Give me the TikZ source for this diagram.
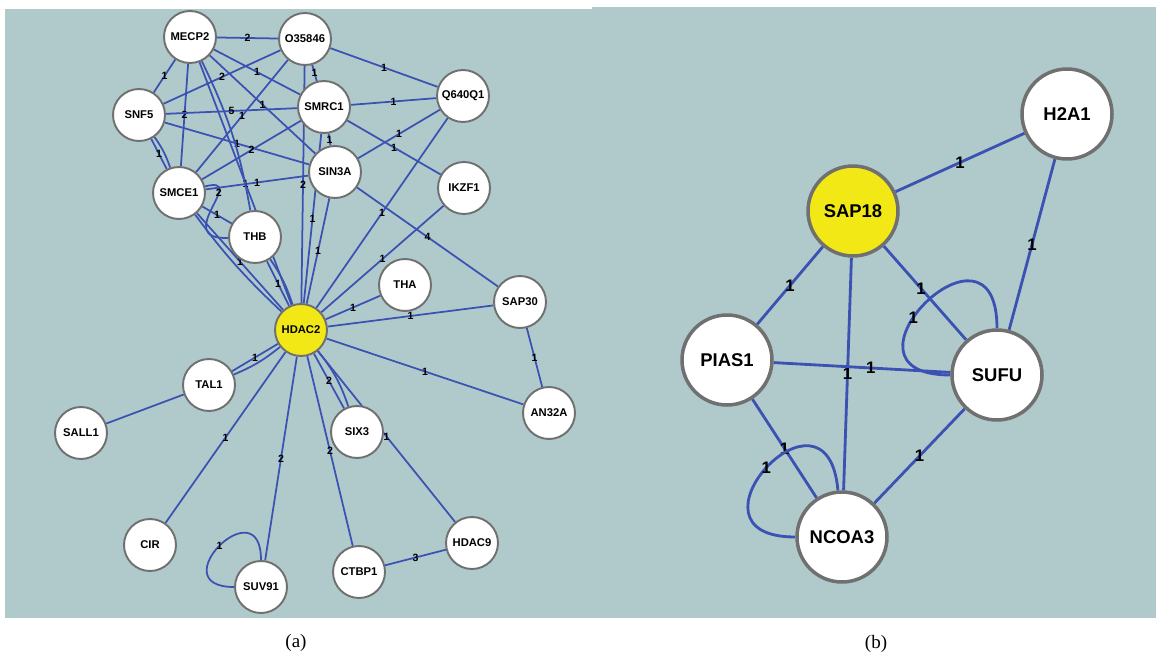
\documentclass[tikz,border=0pt]{standalone}
\usepackage{fontspec}
\setmainfont{Liberation Sans}
\newfontfamily\capfont{Liberation Serif}

\definecolor{panelbg}{RGB}{176,202,203}
\definecolor{edgeblue}{RGB}{59,82,178}
\definecolor{hubyellow}{RGB}{242,232,22}
\definecolor{rimgray}{RGB}{112,112,112}

\pgfdeclarelayer{panel}
\pgfdeclarelayer{wires}
\pgfsetlayers{panel,wires,main}

\tikzset{
  prot/.style={circle, draw=rimgray, line width=1.1pt, fill=white, minimum size=1.04cm, inner sep=0pt, font=\fontsize{6.4}{7}\selectfont\bfseries},
  hub/.style={prot, fill=hubyellow},
  bigprot/.style={circle, draw=rimgray, line width=2pt, fill=white, minimum size=1.8cm, inner sep=0pt, font=\fontsize{10.5}{12}\selectfont\bfseries},
  bighub/.style={bigprot, fill=hubyellow},
  link/.style={edgeblue, line width=1pt},
  biglink/.style={edgeblue, line width=1.6pt},
  wt/.style={text=black, font=\fontsize{6}{7}\selectfont\bfseries, inner sep=0pt},
  bigwt/.style={text=black, font=\fontsize{9.5}{10}\selectfont\bfseries, inner sep=0pt}
}

\begin{document}
\begin{tikzpicture}[x=0.02cm, y=-0.02cm]

\useasboundingbox (0,0) rectangle (1156,655);

\begin{pgfonlayer}{panel}
\fill [panelbg] (5,9) rectangle (592,618);
\fill [panelbg] (592,7) rectangle (1156,618);
\end{pgfonlayer}

\node [prot] (mecp2) at (190,37) {MECP2};
\node [prot] (o35846) at (305,39) {O35846};
\node [prot] (q640q1) at (463,96) {Q640Q1};
\node [prot] (snf5) at (139,115) {SNF5};
\node [prot] (smrc1) at (324,107) {SMRC1};
\node [prot] (sin3a) at (335,172) {SIN3A};
\node [prot] (ikzf1) at (464,188) {IKZF1};
\node [prot] (smce1) at (179,193) {SMCE1};
\node [prot] (thb) at (255,237) {THB};
\node [hub] (hdac2) at (301,330) {HDAC2};
\node [prot] (tha) at (405,285) {THA};
\node [prot] (sap30) at (520,302) {SAP30};
\node [prot] (tal1) at (209,385) {TAL1};
\node [prot] (sall1) at (81,433) {SALL1};
\node [prot] (six3) at (357,432) {SIX3};
\node [prot] (an32a) at (549,413) {AN32A};
\node [prot] (cir) at (150,545) {CIR};
\node [prot] (suv91) at (261,587) {SUV91};
\node [prot] (ctbp1) at (359,572) {CTBP1};
\node [prot] (hdac9) at (472,543) {HDAC9};

\node [bigprot] (h2a1) at (1067,114) {H2A1};
\node [bighub] (sap18) at (853,211) {SAP18};
\node [bigprot] (pias1) at (727,360) {PIAS1};
\node [bigprot] (sufu) at (997,375) {SUFU};
\node [bigprot] (ncoa3) at (842,537) {NCOA3};

\begin{pgfonlayer}{wires}
\draw [link] (mecp2) -- node [wt] {2} (o35846);
\draw [link] (o35846) -- node [wt] {1} (q640q1);
\draw [link] (mecp2) -- node [wt] {1} (snf5);
\draw [link] (snf5) -- node [wt] {2} (o35846);
\draw [link] (mecp2) -- node [wt] {1} (smrc1);
\draw [link] (o35846) -- node [wt] {1} (smrc1);
\draw [link] (mecp2) -- node [wt] {1} (sin3a);
\draw [link] (mecp2) -- node [wt] {2} (smce1);
\draw [link] (snf5) -- node [wt] {5} (smrc1);
\draw [link] (o35846) -- node [wt] {1} (smce1);
\draw [link] (smrc1) -- node [wt] {1} (q640q1);
\draw [link] (smrc1) -- node [wt] {1} (sin3a);
\draw [link] (sin3a) -- node [wt] {1} (q640q1);
\draw [link] (smrc1) -- node [wt] {1} (ikzf1);
\draw [link] (snf5) -- node [wt] {1} (sin3a);
\draw [link] (smce1) -- node [wt] {2} (smrc1);
\draw [link] (snf5) -- node [wt] {1} (smce1);
\draw [link] (snf5) to [bend left=8] (smce1);
\draw [link] (smce1) -- node [wt] {1} (sin3a);
\draw [link] (mecp2) -- node [wt] {1} (hdac2);
\draw [link] (mecp2) to [bend left=8] (thb);
\draw [link] (smce1) -- node [wt] {1} (thb);
\draw [link] (smce1) .. controls (250,175) and (170,240) .. node [wt, pos=0.3] {2} (thb);
\draw [link] (o35846) -- node [wt] {2} (hdac2);
\draw [link] (smrc1) -- node [wt] {1} (hdac2);
\draw [link] (sin3a) -- node [wt] {1} (hdac2);
\draw [link] (q640q1) -- node [wt] {1} (hdac2);
\draw [link] (sin3a) -- node [wt] {4} (sap30);
\draw [link] (ikzf1) -- node [wt] {1} (hdac2);
\draw [link] (tha) -- node [wt] {1} (hdac2);
\draw [link] (sap30) -- node [wt] {1} (hdac2);
\draw [link] (smce1) -- node [wt] {1} (hdac2);
\draw [link] (smce1) to [bend right=5] (hdac2);
\draw [link] (thb) -- node [wt] {1} (hdac2);
\draw [link] (thb) to [bend left=8] (hdac2);
\draw [link] (tal1) -- node [wt] {1} (hdac2);
\draw [link] (tal1) to [bend right=8] (hdac2);
\draw [link] (tal1) -- (sall1);
\draw [link] (cir) -- node [wt] {1} (hdac2);
\draw [link] (suv91) -- node [wt] {2} (hdac2);
\draw [link] (ctbp1) -- node [wt] {2} (hdac2);
\draw [link] (six3) -- node [wt] {2} (hdac2);
\draw [link] (six3) to [bend right=10] (hdac2);
\draw [link] (hdac2) -- node [wt] {1} (hdac9);
\draw [link] (hdac2) -- node [wt] {1} (an32a);
\draw [link] (sap30) -- node [wt] {1} (an32a);
\draw [link] (ctbp1) -- node [wt] {3} (hdac9);
\draw [link] (suv91) to [out=90, in=180, looseness=5] node [wt] {1} (suv91);

\draw [biglink] (sap18) -- node [bigwt] {1} (h2a1);
\draw [biglink] (h2a1) -- node [bigwt] {1} (sufu);
\draw [biglink] (sap18) -- node [bigwt] {1} (pias1);
\draw [biglink] (sap18) -- node [bigwt] {1} (ncoa3);
\draw [biglink] (sap18) -- node [bigwt, pos=0.45] {1} (sufu);
\draw [biglink] (pias1) -- node [bigwt, pos=0.55] {1} (sufu);
\draw [biglink] (pias1) -- node [bigwt] {1} (ncoa3);
\draw [biglink] (sufu) -- node [bigwt] {1} (ncoa3);
\draw [biglink] (sufu) to [out=90, in=180, looseness=5] node [bigwt, pos=0.58] {1} (sufu);
\draw [biglink] (ncoa3) to [out=95, in=180, looseness=5] node [bigwt] {1} (ncoa3);
\end{pgfonlayer}

\node [font=\capfont\fontsize{10.8}{12}\selectfont] (capa) at (296,643) {(a)};
\node [font=\capfont\fontsize{10.8}{12}\selectfont] (capb) at (876,644) {(b)};

\end{tikzpicture}
\end{document}
